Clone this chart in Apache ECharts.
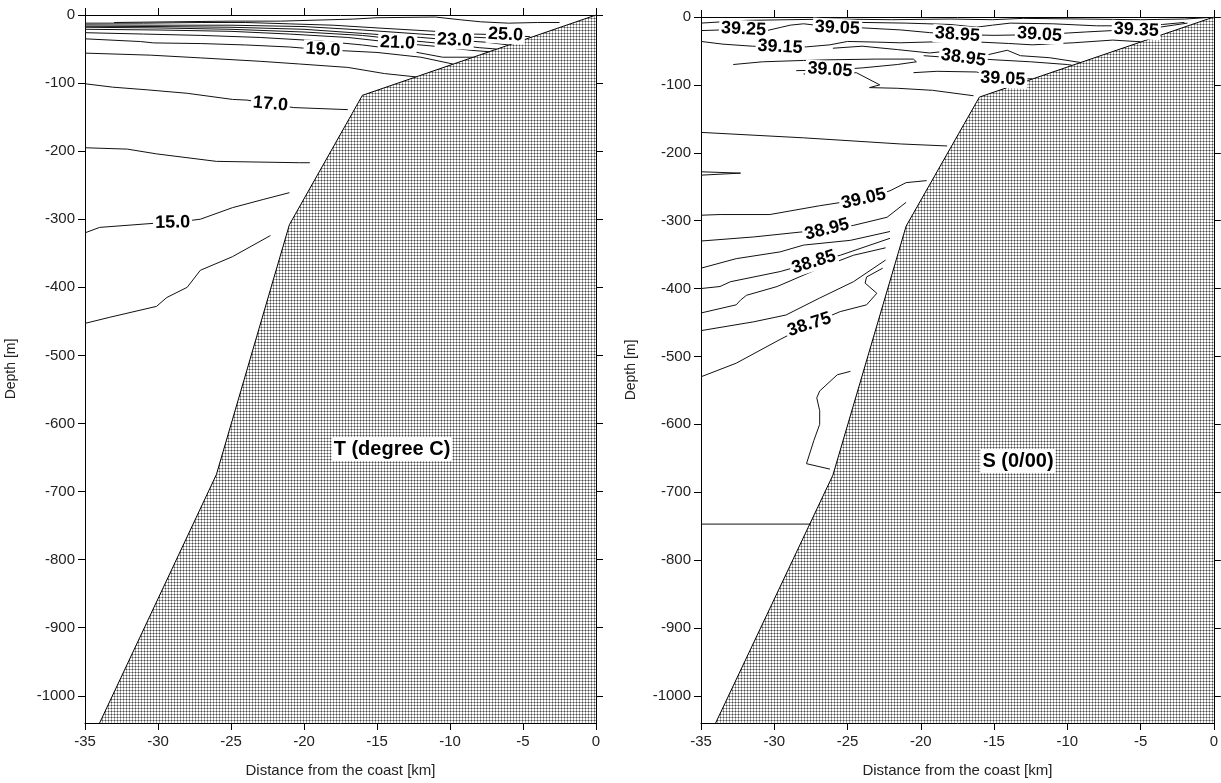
<!DOCTYPE html>
<html>
<head>
<meta charset="utf-8">
<title>T and S sections</title>
<script src="https://cdn.jsdelivr.net/npm/echarts@6/dist/echarts.min.js"></script>
<style>
  html, body { margin: 0; padding: 0; background: #fff; }
  #main { width: 1221px; height: 783px; }
</style>
</head>
<body>
<div id="main"></div>
<script>
// ticks (distance km, depth m)
const xTicks = [-35, -30, -25, -20, -15, -10, -5, 0]
const yTicks = [0, -100, -200, -300, -400, -500, -600, -700, -800, -900, -1000]

// sea bottom profile, same for both sections
const seabed = [[0, 0], [-16, -118], [-21, -308], [-26, -675], [-34, -1040]]

// temperature isolines
const tLine26 = [[-33, -11], [-29, -10], [-25, -9], [-21.6, -9], [-16.6, -6], [-15, -4], [-11, -3], [-9.3, -7], [-7.9, -10], [-6, -12], [-4, -11], [-2.5, -11]]
const tLine25 = [[-35, -12], [-31, -12], [-27, -11], [-24, -11], [-21, -13], [-18, -15], [-15, -19], [-11, -24], [-8.5, -28], [-6.2, -29], [-4.5, -32]]
const tLine24 = [[-35, -14.5], [-30, -15], [-25, -15], [-20, -17], [-16, -22], [-12, -28], [-9, -32], [-5, -36]]
const tLine23 = [[-35, -16.5], [-30, -17], [-25, -18], [-20, -21], [-16, -27], [-12, -33], [-9.7, -37], [-7.5, -40], [-6, -44]]
const tLine22 = [[-35, -18], [-30, -19], [-25, -21], [-20, -25], [-16, -30], [-13, -37], [-10, -43], [-8, -48], [-6.8, -50]]
const tLine21 = [[-35, -21], [-30, -22], [-25, -24], [-21, -28], [-17, -33], [-13.6, -41], [-11, -46], [-8.5, -52], [-7.3, -54]]
const tLine20 = [[-35, -26], [-31, -28], [-27, -30], [-23, -33], [-19, -38], [-16, -44], [-13, -52], [-10.5, -62], [-8.4, -62]]
const tLine19 = [[-35, -35], [-31.2, -39], [-30.3, -41], [-27, -42], [-24, -44], [-21, -47], [-18.7, -51], [-15, -55], [-12, -62], [-9.8, -72]]
const tLine18 = [[-35, -56], [-30.5, -59], [-27.1, -63], [-23, -68], [-20.3, -72], [-17, -77], [-14.5, -86], [-12.3, -91]]
const tLine17 = [[-35, -101], [-33.1, -106], [-30.7, -110], [-28, -115], [-24.9, -124], [-23.9, -125], [-22.3, -131], [-20.7, -136], [-17, -139]]
const tLine16 = [[-35, -195], [-32.1, -197], [-30.1, -204], [-26, -215], [-20.3, -217], [-19.6, -217]]
const tLine15 = [[-35, -320], [-34, -312], [-30.3, -306], [-29, -305], [-27.1, -300], [-24.9, -283], [-22.8, -271], [-21, -261]]
const tLine14 = [[-35, -453], [-33.3, -444], [-30.1, -428], [-29.4, -415], [-28, -400], [-27.1, -375], [-24.9, -355], [-22.3, -324]]
const tempLines = [tLine26, tLine25, tLine24, tLine23, tLine22, tLine21, tLine20, tLine19, tLine18, tLine17, tLine16, tLine15, tLine14]

const tempLabels = [['25.0', -6.2, -29], ['23.0', -9.7, -37], ['21.0', -13.6, -41], ['19.0', -18.7, -51], ['17.0', -22.3, -131], ['15.0', -29, -305]]
const tempLabelAngles = [-3, -2, -3, -4, -5, 1]

// salinity isolines
const sLine1 = [[-35, -9], [-33.5, -7], [-32, -5], [-29, -4], [-26, -3], [-22, -4], [-18, -3], [-15.1, -4], [-13, -2], [-9, -3], [-5, -4], [-2, -3], [-0.5, -1]]
const sLine2 = [[-35, -20], [-33.5, -19], [-32.1, -18], [-30.5, -20], [-29.5, -15], [-28.9, -12], [-28, -10], [-26.8, -13], [-25.7, -16], [-24, -16], [-21.4, -19], [-19.4, -23], [-17.5, -26], [-15, -27], [-11.9, -26], [-8.7, -22], [-6.9, -20], [-5.3, -19], [-3.7, -15], [-1.8, -9]]
const sLine3 = [[-27, -6], [-24, -8], [-21, -9], [-18, -11], [-16.2, -15], [-15.1, -12], [-13.9, -9], [-11, -10], [-8, -13], [-5, -13], [-3.5, -11], [-2, -8]]
const sLine4 = [[-35, -36], [-33.5, -40], [-31.5, -43], [-29.6, -44], [-27.8, -44], [-26.2, -41], [-25, -36], [-23, -37], [-21.4, -38], [-18, -36], [-16.9, -36], [-14, -39], [-12.4, -41], [-9.6, -38], [-6.9, -34], [-5, -36.5]]
const sLine5 = [[-26, -46], [-24, -43], [-21.6, -48], [-19.4, -53], [-18.5, -51], [-17, -54], [-15.5, -56], [-14.1, -49], [-13.2, -57], [-11.2, -60], [-9.1, -67]]
const sLine6 = [[-32.8, -70], [-30.8, -66], [-28, -64], [-26.2, -63], [-23, -62], [-20.5, -62], [-20.3, -66], [-21.6, -70], [-24, -75], [-26.2, -78], [-28.5, -79]]
const sLine7 = [[-19.8, -57], [-18.5, -59], [-17.1, -60], [-15, -63], [-12.5, -66], [-10, -70], [-9.7, -71]]
const sLine8 = [[-28, -84], [-25.5, -84], [-24.4, -82], [-22.8, -100], [-23.5, -104], [-21.6, -105], [-19.2, -108], [-16.4, -116]]
const sLine9 = [[-20.5, -82], [-18.9, -80], [-16.2, -81], [-14.4, -91], [-12.4, -91]]
const sLine10 = [[-35, -170], [-28, -178], [-21.4, -187], [-18.2, -190]]
const sLine11 = [[-35, -228], [-32.3, -230], [-35, -233]]
const sLine12 = [[-35, -292], [-33.7, -291], [-30.3, -291], [-26.9, -278], [-23.9, -268], [-22.1, -256], [-21, -244], [-19.6, -241]]
const sLine13 = [[-35, -330], [-31.4, -324], [-28.3, -317], [-26.4, -313], [-24.6, -307], [-22.3, -295], [-21, -273]]
const sLine14 = [[-35, -370], [-32.6, -356], [-29.6, -346], [-28, -336], [-24.8, -329], [-22.1, -316]]
const sLine15 = [[-35, -400], [-33.7, -397], [-33, -390], [-29.6, -375], [-27.3, -361], [-25.5, -351], [-22.1, -326]]
const sLine16 = [[-35, -436], [-32.6, -424], [-32.3, -417], [-31.9, -410], [-29.8, -397], [-26.9, -370], [-24.6, -351], [-22.4, -340]]
const sLine17 = [[-35, -462], [-31.4, -449], [-29.2, -439], [-26.9, -414], [-24.6, -390], [-22.4, -358]]
const sLine18 = [[-35, -530], [-32.6, -510], [-29.6, -475], [-27.6, -453], [-25.5, -434], [-23.7, -424], [-23, -407], [-23.8, -392], [-23.7, -383], [-22.6, -370]]
const sLine19 = [[-24.8, -522], [-25.7, -527], [-26.9, -551], [-27.1, -561], [-26.9, -580], [-26.9, -600], [-27.3, -624], [-27.8, -658], [-26.2, -666]]
const sLine20 = [[-35, -747], [-27.5, -747]]
const salLines = [sLine1, sLine2, sLine3, sLine4, sLine5, sLine6, sLine7, sLine8, sLine9, sLine10,
  sLine11, sLine12, sLine13, sLine14, sLine15, sLine16, sLine17, sLine18, sLine19, sLine20]

const salLabels = [['39.25', -32.1, -18], ['39.05', -25.7, -16], ['39.15', -29.6, -44], ['39.05', -26.2, -78],
  ['38.95', -17.5, -26], ['38.95', -17.1, -60], ['39.05', -11.9, -26], ['39.35', -5.3, -19], ['39.05', -14.4, -91],
  ['39.05', -23.9, -268], ['38.95', -26.4, -313], ['38.85', -27.3, -361], ['38.75', -27.6, -453]]
const salLabelAngles = [-3, -3, -3, -4, -4, -8, -4, -3, -3, 13, 14, 17, 18]

const fontName = 'Liberation Sans, Arial, sans-serif'

// dotted mesh used for the sea bottom
function makeMesh() {
  let c = document.createElement('canvas')
  c.width = 3
  c.height = 3
  let ctx = c.getContext('2d')
  ctx.fillStyle = '#ffffff'
  ctx.fillRect(0, 0, 3, 3)
  ctx.fillStyle = '#a6a6a6'
  ctx.fillRect(0, 0, 3, 1)
  ctx.fillRect(0, 0, 1, 3)
  ctx.fillStyle = '#4a4a4a'
  ctx.fillRect(0, 0, 1, 1)
  return c
}
const mesh = makeMesh()

function xAxes(grid, showLabels) {
  let common = {
    gridIndex: grid, type: 'value', min: -35, max: 0,
    splitLine: { show: false },
    axisLine: { show: true, onZero: false, lineStyle: { color: '#000', width: 1 } },
    axisTick: { show: true, length: 7, customValues: xTicks, lineStyle: { color: '#000' } }
  }
  return [
    Object.assign({}, common, {
      position: 'bottom',
      name: 'Distance from the coast [km]', nameLocation: 'middle', nameGap: 40,
      nameTextStyle: { fontFamily: fontName, fontSize: 15, color: '#222' },
      axisLabel: { show: showLabels, customValues: xTicks, margin: 11, fontFamily: fontName, fontSize: 15, color: '#222' }
    }),
    Object.assign({}, common, { position: 'top', axisLabel: { show: false } })
  ]
}

function yAxes(grid, nameGap) {
  let common = {
    gridIndex: grid, type: 'value', min: -1040, max: 0,
    splitLine: { show: false },
    axisLine: { show: true, onZero: false, lineStyle: { color: '#000', width: 1 } },
    axisTick: { show: true, length: 7, customValues: yTicks, lineStyle: { color: '#000' } }
  }
  return [
    Object.assign({}, common, {
      position: 'left',
      name: 'Depth [m]', nameLocation: 'middle', nameGap: nameGap,
      nameTextStyle: { fontFamily: fontName, fontSize: 14, color: '#222' },
      axisLabel: {
        customValues: yTicks, margin: 10, fontFamily: fontName, fontSize: 15, color: '#222',
        formatter: v => String(v)
      }
    }),
    Object.assign({}, common, { position: 'right', axisLabel: { show: false } })
  ]
}

function seabedSeries(xi, yi) {
  return {
    type: 'line', xAxisIndex: xi, yAxisIndex: yi, data: seabed,
    symbol: 'none', silent: true, z: 3,
    lineStyle: { color: '#000', width: 1 },
    areaStyle: { origin: 'start', opacity: 1, color: { image: mesh, repeat: 'repeat' } }
  }
}

function contourSeries(lines, xi, yi) {
  return lines.map(d => ({
    type: 'line', xAxisIndex: xi, yAxisIndex: yi, data: d,
    symbol: 'none', silent: true, z: 4,
    lineStyle: { color: '#111', width: 1 }
  }))
}

function labelSeries(labels, angles, xi, yi) {
  return {
    type: 'scatter', xAxisIndex: xi, yAxisIndex: yi, silent: true, z: 10,
    symbolSize: 1, itemStyle: { color: '#fff', opacity: 1 },
    data: labels.map((l, i) => ({ name: l[0], value: [l[1], l[2]], label: { rotate: angles[i] } })),
    label: {
      show: true, position: 'inside', formatter: '{b}',
      fontFamily: fontName, fontWeight: 'bold', fontSize: 18, color: '#000',
      textBorderWidth: 0, textBorderColor: 'transparent',
      backgroundColor: '#fff', padding: [0, 2]
    }
  }
}

let chart = echarts.init(document.getElementById('main'), null, { renderer: 'canvas' })
let series = [].concat(
  [seabedSeries(0, 0)],
  contourSeries(tempLines, 0, 0),
  [labelSeries(tempLabels, tempLabelAngles, 0, 0)],
  [seabedSeries(2, 2)],
  contourSeries(salLines, 2, 2),
  [labelSeries(salLabels, salLabelAngles, 2, 2)]
)

chart.setOption({
  animation: false,
  backgroundColor: '#fff',
  grid: [
    { left: 85, right: 625, top: 15, bottom: 59 },
    { left: 701, right: 7, top: 17, bottom: 55 }
  ],
  xAxis: xAxes(0, true).concat(xAxes(1, true)),
  yAxis: yAxes(0, 67).concat(yAxes(1, 63)),
  series: series,
  graphic: [
    {
      type: 'text', x: 392, y: 449, z: 20,
      style: {
        text: 'T (degree C)', font: 'bold 20px ' + fontName, fill: '#000',
        align: 'center', verticalAlign: 'middle', backgroundColor: '#fff', padding: [2, 2]
      }
    },
    {
      type: 'text', x: 1018, y: 461, z: 20,
      style: {
        text: 'S (0/00)', font: 'bold 20px ' + fontName, fill: '#000',
        align: 'center', verticalAlign: 'middle', backgroundColor: '#fff', padding: [2, 2]
      }
    }
  ]
})
</script>
</body>
</html>
